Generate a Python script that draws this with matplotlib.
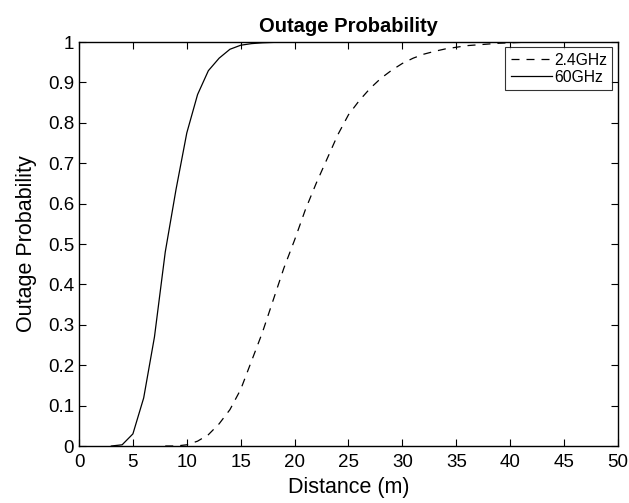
import matplotlib
matplotlib.use("Agg")
import matplotlib.pyplot as plt
import numpy as np

plt.rcParams['font.family'] = ['Liberation Sans', 'DejaVu Sans']

# distance samples (m)
dist24 = list(range(8, 46))
dist60 = list(range(3, 46))

# 2.4 GHz outage probability
p24 = [0, 0, 0.003,
       0.012, 0.028, 0.055, 0.09, 0.14, 0.21, 0.28, 0.36, 0.44, 0.51,
       0.585, 0.65, 0.71, 0.77, 0.82, 0.855, 0.885, 0.91, 0.93, 0.947,
       0.96, 0.97, 0.977, 0.983, 0.987, 0.991, 0.993, 0.995, 0.997, 0.998,
       0.999, 1.0, 1.0, 1.0, 1.0]

# 60 GHz outage probability
p60 = [0, 0.003, 0.03, 0.119, 0.27, 0.48, 0.635, 0.775,
       0.87, 0.929, 0.96, 0.982, 0.992, 0.996, 0.998, 0.999, 1.0, 1.0,
       1.0, 1.0, 1.0, 1.0, 1.0, 1.0, 1.0, 1.0, 1.0, 1.0,
       1.0, 1.0, 1.0, 1.0, 1.0, 1.0, 1.0, 1.0, 1.0, 1.0,
       1.0, 1.0, 1.0, 1.0, 1.0]

fig = plt.figure(figsize=(6.29, 5.03), dpi=100)
ax = fig.add_axes([0.1256, 0.1133, 0.8569, 0.8032])

ax.plot(dist24, p24, 'k--', lw=0.9, dashes=(6.4, 5.6), label='2.4GHz')
ax.plot(dist60, p60, 'k-', lw=0.9, label='60GHz')

ax.set_xlim(0, 50)
ax.set_ylim(0, 1)
ax.set_xticks(np.arange(0, 51, 5))
ax.set_yticks(np.arange(0, 1.01, 0.1))
ax.set_yticklabels(['0', '0.1', '0.2', '0.3', '0.4', '0.5', '0.6', '0.7', '0.8', '0.9', '1'])
ax.tick_params(direction='in', top=True, right=True, length=5, width=0.8, labelsize=13.5)
ax.tick_params(axis='x', pad=6)
ax.tick_params(axis='y', pad=3.5)
for s in ax.spines.values():
    s.set_linewidth(1.0)

ax.set_title('Outage Probability', fontsize=14.5, fontweight='bold', pad=7)
ax.set_xlabel('Distance (m)', fontsize=15.5, labelpad=4)
ax.set_ylabel('Outage Probability', fontsize=15.5, labelpad=8)

leg = ax.legend(loc='upper right', fontsize=11.3, frameon=True, fancybox=False,
                edgecolor='black', borderaxespad=0.35, handlelength=2.6,
                handletextpad=0.15, borderpad=0.35, labelspacing=0.1)
leg.get_frame().set_linewidth(0.8)

fig.savefig('out.png', dpi=100)
